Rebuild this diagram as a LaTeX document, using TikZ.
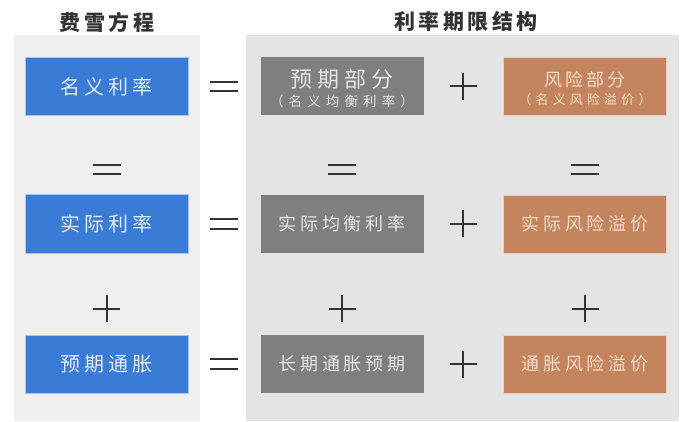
\documentclass[tikz,border=0pt]{standalone}
\usepackage{fontspec}
\usetikzlibrary{calc}
\newfontfamily\cjk{Noto Sans CJK SC}
\definecolor{panelL}{HTML}{EFEFEF}
\definecolor{panelR}{HTML}{E4E4E4}
\definecolor{cblue}{HTML}{3A7BD5}
\definecolor{cgray}{HTML}{7F7F7F}
\definecolor{corange}{HTML}{C3845E}
\definecolor{tblue}{HTML}{E2ECF8}
\definecolor{tgray}{HTML}{E6E6E6}
\definecolor{torange}{HTML}{F8DCC8}
\definecolor{symcol}{HTML}{333333}
\newcommand{\cjkfont}[2]{\cjk\addfontfeature{LetterSpace=#2}\fontsize{#1}{#1}\selectfont}
\begin{document}
\begin{tikzpicture}[x=1pt,y=-1pt,
  panel/.style={anchor=north west, inner sep=0pt, draw=none},
  cell/.style={minimum width=163pt, minimum height=58pt, inner sep=0pt, align=center},
  bluebox/.style={cell, fill=cblue, draw=cblue!45, line width=1pt, text=tblue, font=\cjkfont{20}{21}},
  graybox/.style={cell, fill=cgray, text=tgray, font=\cjkfont{18}{22}},
  orangebox/.style={cell, fill=corange, draw=corange!40, line width=0.8pt, text=torange, font=\cjkfont{18}{22}},
  lbl/.style={inner sep=0pt},
  title/.style={font=\cjkfont{21}{16}\bfseries, text=symcol},
  sym/.style={draw=symcol, line width=2pt},
  eqs/.pic={\draw[sym] (-14,-4.8) -- (14,-4.8) (-14,4.8) -- (14,4.8);},
  pls/.pic={\draw[sym] (-13.5,0) -- (13.5,0) (0,-13.5) -- (0,13.5);}
]
\useasboundingbox (0,0) rectangle (688,422);
\fill[white] (0,0) rectangle (688,422);
\node[panel, fill=panelL, minimum width=186pt, minimum height=386pt] (pl) at (14,35) {};
\node[panel, fill=panelR, minimum width=433pt, minimum height=386pt] (pr) at (246,35) {};
\node[title] (t1) at (107,22) {费雪方程};
\node[title] (t2) at (466,22) {利率期限结构};

\node[bluebox] (b1) at (106.5,86.5) {名义利率};
\node[bluebox] (b2) at (106.5,224) {实际利率};
\node[bluebox] (b3) at (106.5,364) {预期通胀};

\node[graybox] (g1) at (342,86.5) {};
\node[lbl, text=tgray, font=\cjkfont{22}{24}] (g1a) at ($(g1.center)+(0,-7)$) {预期部分};
\node[lbl, text=tgray, font=\cjkfont{13.5}{38}] (g1b) at ($(g1.center)+(0,15)$) {（名义均衡利率）};
\node[graybox] (g2) at (342,224) {实际均衡利率};
\node[graybox] (g3) at (342,364) {长期通胀预期};

\node[orangebox] (o1) at (585,86.5) {};
\node[lbl, text=torange, font=\cjkfont{18}{18}] (o1a) at ($(o1.center)+(0,-7)$) {风险部分};
\node[lbl, text=torange, font=\cjkfont{13}{32}] (o1b) at ($(o1.center)+(0,13.5)$) {（名义风险溢价）};
\node[orangebox] (o2) at (585,224) {实际风险溢价};
\node[orangebox] (o3) at (585,364) {通胀风险溢价};

% horizontal operators
\pic at ($(b1.east)!0.49!(g1.west)$) {eqs};
\pic at ($(b2.east)!0.49!(g2.west)$) {eqs};
\pic at ($(b3.east)!0.49!(g3.west)$) {eqs};
\pic at ($(g1.east)!0.5!(o1.west)$) {pls};
\pic at ($(g2.east)!0.5!(o2.west)$) {pls};
\pic at ($(g3.east)!0.5!(o3.west)$) {pls};
% vertical operators
\pic at ($(b1.south)!0.68!(b2.north)$) {eqs};
\pic at ($(g1.south)!0.68!(g2.north)$) {eqs};
\pic at ($(o1.south)!0.68!(o2.north)$) {eqs};
\pic at ($(b2.south)!0.68!(b3.north)$) {pls};
\pic at ($(g2.south)!0.68!(g3.north)$) {pls};
\pic at ($(o2.south)!0.68!(o3.north)$) {pls};
\end{tikzpicture}
\end{document}
